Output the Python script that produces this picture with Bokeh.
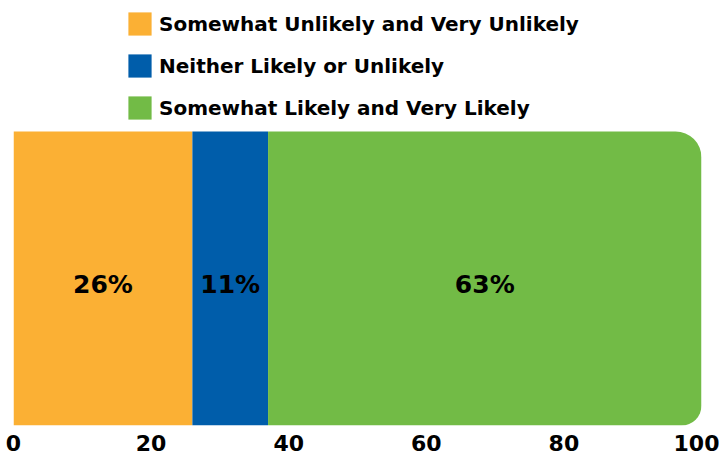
from bokeh.plotting import figure
from bokeh.models import Range1d, Legend, LegendItem, FixedTicker, ColumnDataSource
from bokeh.core.properties import value
from bokeh.embed import file_html
from bokeh.resources import INLINE

categories = ["Somewhat Unlikely and Very Unlikely", "Neither Likely or Unlikely", "Somewhat Likely and Very Likely"]
values = [26, 11, 63]
labels = ["26%", "11%", "63%"]
colors = ["#FBB034", "#005DAA", "#72BB46"]
ticks = [0, 20, 40, 60, 80, 100]

FONT = "DejaVu Sans"

p = figure(width=719, height=456, output_backend="svg", toolbar_location=None,
           x_range=Range1d(0, 100), y_range=Range1d(0, 1.4456),
           min_border_left=13, min_border_right=18, min_border_top=0, min_border_bottom=31)

p.outline_line_color = None
p.xgrid.visible = False
p.ygrid.visible = False
p.yaxis.visible = False

lefts = []
acc = 0
for v in values:
    lefts.append(acc)
    acc += v
rights = [l + v for l, v in zip(lefts, values)]
mids = [(l + r) / 2 for l, r in zip(lefts, rights)]

items = []
for i, cat in enumerate(categories):
    kw = {}
    if i == len(categories) - 1:
        kw["border_radius"] = (0, 26, 20, 0)
    r = p.hbar(y=[0.5], left=[lefts[i]], right=[rights[i]], height=1.0,
               fill_color=colors[i], line_color=None, **kw)
    items.append(LegendItem(label=cat, renderers=[r]))

src = ColumnDataSource(dict(x=mids, y=[0.48] * 3, t=labels))
p.text(x="x", y="y", text="t", source=src, text_align="center", text_baseline="middle",
       text_font=value(FONT), text_font_style="bold", text_font_size="25px", text_color="black")

legend = Legend(items=items, location=(112, 303), orientation="vertical",
                glyph_width=29, glyph_height=29, label_height=29, spacing=13,
                label_text_font=FONT, label_text_font_style="bold", label_text_font_size="20px",
                label_text_color="black",
                label_standoff=5, background_fill_alpha=0, border_line_color=None,
                padding=0, margin=0)
p.add_layout(legend, "center")

p.xaxis.ticker = FixedTicker(ticks=ticks)
p.xaxis.axis_line_color = None
p.xaxis.major_tick_line_color = None
p.xaxis.minor_tick_line_color = None
p.xaxis.major_tick_out = 0
p.xaxis.major_tick_in = 0
p.xaxis.major_label_text_font = FONT
p.xaxis.major_label_text_font_style = "bold"
p.xaxis.major_label_text_font_size = "22px"
p.xaxis.major_label_text_color = "black"
p.xaxis.major_label_standoff = 9

open("out.html", "w").write(file_html(p, INLINE))
